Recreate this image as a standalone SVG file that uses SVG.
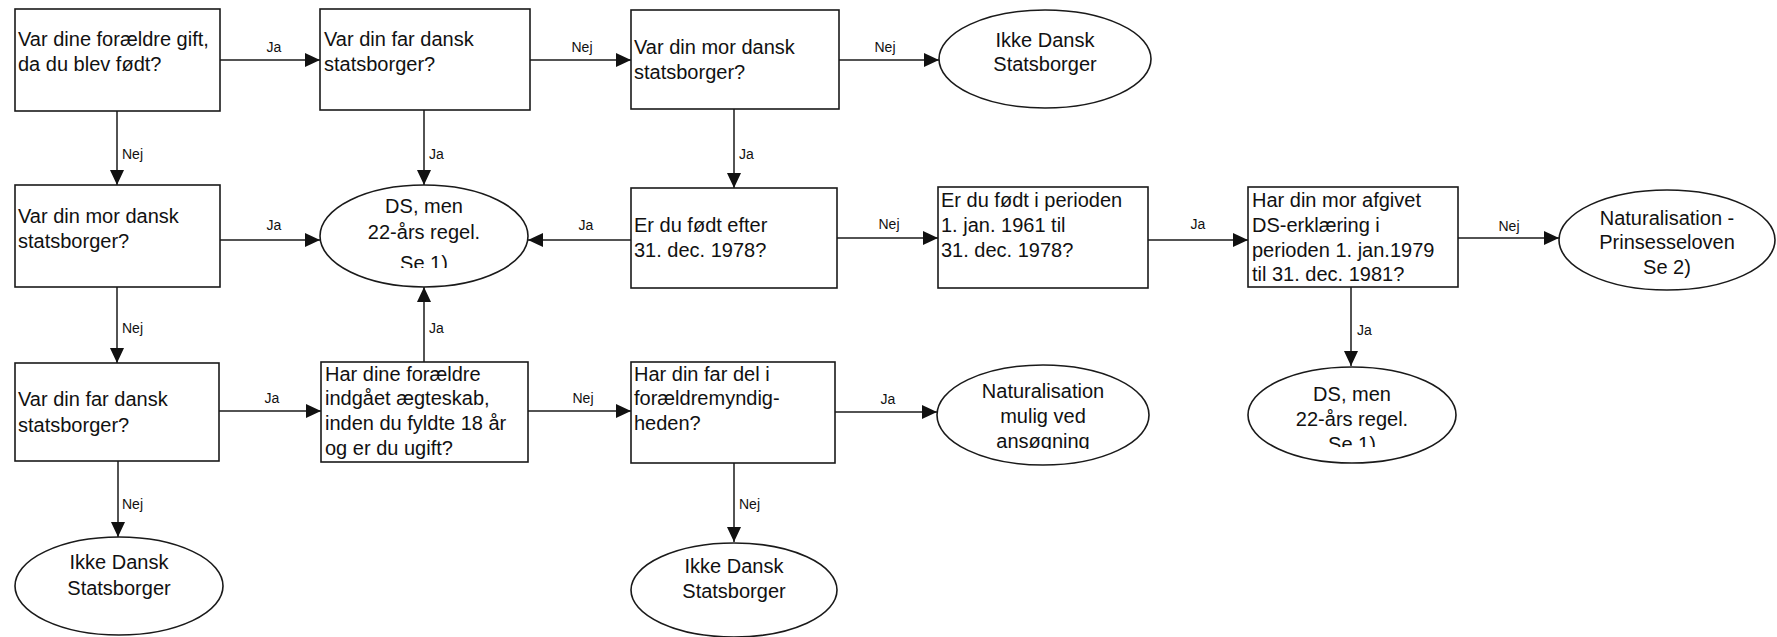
<svg xmlns="http://www.w3.org/2000/svg" width="1777" height="637" viewBox="0 0 1777 637">
<style>
.n{fill:#fff;stroke:#1a1a1a;stroke-width:1.6}
.t{font-family:"Liberation Sans",Arial,sans-serif;font-size:20px;fill:#111}
.c{text-anchor:middle}
.l{font-family:"Liberation Sans",Arial,sans-serif;font-size:14px;fill:#111}
.e{fill:none;stroke:#1a1a1a;stroke-width:1.5;marker-end:url(#a)}
</style>
<defs>
<marker id="a" markerUnits="userSpaceOnUse" markerWidth="15" markerHeight="14" refX="15" refY="7" orient="auto">
<path d="M0,0 L15,7 L0,14 z" fill="#111"/>
</marker>
<clipPath id="k1"><rect x="330" y="180" width="190" height="88"/></clipPath>
<clipPath id="k2"><rect x="1255" y="360" width="190" height="87"/></clipPath>
<clipPath id="k3"><rect x="945" y="360" width="200" height="89"/></clipPath>
</defs>
<rect width="1777" height="637" fill="#fff"/>
<g id="connectors">
<path class="e" d="M220,60 H320"/>
<path class="e" d="M530,60 H631"/>
<path class="e" d="M839,60 H939"/>
<path class="e" d="M117,111 V185"/>
<path class="e" d="M424,110 V185"/>
<path class="e" d="M734,109 V188"/>
<path class="e" d="M220,240 H320"/>
<path class="e" d="M631,240 H528"/>
<path class="e" d="M837,238 H938"/>
<path class="e" d="M1148,240 H1248"/>
<path class="e" d="M1458,238 H1559"/>
<path class="e" d="M1351,287 V366"/>
<path class="e" d="M117,287 V363"/>
<path class="e" d="M424,362 V287"/>
<path class="e" d="M219,411 H321"/>
<path class="e" d="M528,411 H631"/>
<path class="e" d="M835,412 H937"/>
<path class="e" d="M118,461 V537"/>
<path class="e" d="M734,463 V542"/>
<text class="l c" x="274" y="52">Ja</text>
<text class="l c" x="582" y="52">Nej</text>
<text class="l c" x="885" y="52">Nej</text>
<text class="l" x="122" y="159">Nej</text>
<text class="l" x="429" y="159">Ja</text>
<text class="l" x="739" y="159">Ja</text>
<text class="l c" x="274" y="230">Ja</text>
<text class="l c" x="586" y="230">Ja</text>
<text class="l c" x="889" y="229">Nej</text>
<text class="l c" x="1198" y="229">Ja</text>
<text class="l c" x="1509" y="231">Nej</text>
<text class="l" x="1357" y="335">Ja</text>
<text class="l" x="122" y="333">Nej</text>
<text class="l" x="429" y="333">Ja</text>
<text class="l c" x="272" y="403">Ja</text>
<text class="l c" x="583" y="403">Nej</text>
<text class="l c" x="888" y="404">Ja</text>
<text class="l" x="122" y="509">Nej</text>
<text class="l" x="739" y="509">Nej</text>
</g>
<g id="q1"><rect class="n" x="15" y="9" width="205" height="102"/>
<text class="t" x="18" y="46">Var dine forældre gift,</text><text class="t" x="18" y="71">da du blev født?</text></g>
<g id="q2"><rect class="n" x="320" y="9" width="210" height="101"/>
<text class="t" x="324" y="46">Var din far dansk</text><text class="t" x="324" y="71">statsborger?</text></g>
<g id="q3"><rect class="n" x="631" y="10" width="208" height="99"/>
<text class="t" x="634" y="54">Var din mor dansk</text><text class="t" x="634" y="79">statsborger?</text></g>
<g id="r1"><ellipse class="n" cx="1045" cy="59" rx="106" ry="49"/>
<text class="t c" x="1045" y="47">Ikke Dansk</text><text class="t c" x="1045" y="71">Statsborger</text></g>
<g id="q4"><rect class="n" x="15" y="185" width="205" height="102"/>
<text class="t" x="18" y="223">Var din mor dansk</text><text class="t" x="18" y="248">statsborger?</text></g>
<g id="r2"><ellipse class="n" cx="424" cy="236" rx="104" ry="51"/>
<text class="t c" x="424" y="213">DS, men</text><text class="t c" x="424" y="239">22-års regel.</text><text class="t c" x="424" y="270" clip-path="url(#k1)">Se 1)</text></g>
<g id="q5"><rect class="n" x="631" y="188" width="206" height="100"/>
<text class="t" x="634" y="232">Er du født efter</text><text class="t" x="634" y="257">31. dec. 1978?</text></g>
<g id="q6"><rect class="n" x="938" y="187" width="210" height="101"/>
<text class="t" x="941" y="207">Er du født i perioden</text><text class="t" x="941" y="232">1. jan. 1961 til</text><text class="t" x="941" y="257">31. dec. 1978?</text></g>
<g id="q7"><rect class="n" x="1248" y="187" width="210" height="100"/>
<text class="t" x="1252" y="207">Har din mor afgivet</text><text class="t" x="1252" y="232">DS-erklæring i</text><text class="t" x="1252" y="257">perioden 1. jan.1979</text><text class="t" x="1252" y="281">til 31. dec. 1981?</text></g>
<g id="r3"><ellipse class="n" cx="1667" cy="240" rx="108" ry="50"/>
<text class="t c" x="1667" y="225">Naturalisation -</text><text class="t c" x="1667" y="249">Prinsesseloven</text><text class="t c" x="1667" y="274">Se 2)</text></g>
<g id="q8"><rect class="n" x="15" y="363" width="204" height="98"/>
<text class="t" x="18" y="406">Var din far dansk</text><text class="t" x="18" y="432">statsborger?</text></g>
<g id="q9"><rect class="n" x="321" y="362" width="207" height="100"/>
<text class="t" x="325" y="381">Har dine forældre</text><text class="t" x="325" y="405">indgået ægteskab,</text><text class="t" x="325" y="430">inden du fyldte 18 år</text><text class="t" x="325" y="455">og er du ugift?</text></g>
<g id="q10"><rect class="n" x="631" y="362" width="204" height="101"/>
<text class="t" x="634" y="381">Har din far del i</text><text class="t" x="634" y="405">forældremyndig-</text><text class="t" x="634" y="430">heden?</text></g>
<g id="r4"><ellipse class="n" cx="1043" cy="415" rx="106" ry="50"/>
<text class="t c" x="1043" y="398">Naturalisation</text><text class="t c" x="1043" y="423">mulig ved</text><text class="t c" x="1043" y="448" clip-path="url(#k3)">ansøgning</text></g>
<g id="r5"><ellipse class="n" cx="1352" cy="415" rx="104" ry="48"/>
<text class="t c" x="1352" y="401">DS, men</text><text class="t c" x="1352" y="426">22-års regel.</text><text class="t c" x="1352" y="451" clip-path="url(#k2)">Se 1)</text></g>
<g id="r6"><ellipse class="n" cx="119" cy="586" rx="104" ry="49"/>
<text class="t c" x="119" y="569">Ikke Dansk</text><text class="t c" x="119" y="595">Statsborger</text></g>
<g id="r7"><ellipse class="n" cx="734" cy="590" rx="103" ry="47"/>
<text class="t c" x="734" y="573">Ikke Dansk</text><text class="t c" x="734" y="598">Statsborger</text></g>
</svg>
